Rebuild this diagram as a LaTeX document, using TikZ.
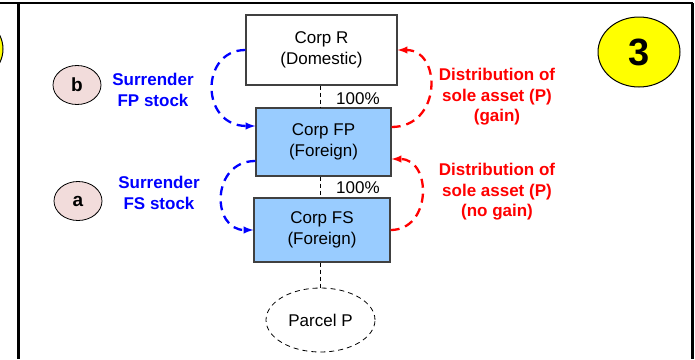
\documentclass[tikz,border=0pt]{standalone}
\usepackage{fontspec}
\setmainfont{Liberation Sans}
\usetikzlibrary{shapes.geometric}
\definecolor{boxblue}{RGB}{153,204,255}
\definecolor{tagpink}{RGB}{242,220,219}
\definecolor{boxgray}{RGB}{64,64,64}
\definecolor{pyellow}{RGB}{255,255,0}
\tikzset{
  corp/.style={draw=boxgray, line width=1.2pt, rectangle, align=center, inner sep=0pt},
  tag/.style={draw, ellipse, fill=tagpink, line width=0.8pt, minimum width=48pt, minimum height=39pt, inner sep=0pt, font=\fontsize{19}{20}\selectfont\bfseries},
  own/.style={draw, line width=0.8pt, dash pattern=on 4pt off 3pt},
  surr/.style={blue, line width=2.3pt, dash pattern=on 9pt off 6pt, ->},
  dist/.style={red, line width=2.3pt, dash pattern=on 9pt off 6pt, ->},
  bluetext/.style={text=blue, align=center, font=\fontsize{17}{20.5}\selectfont\bfseries},
  redtext/.style={text=red, align=center, font=\fontsize{17}{20.5}\selectfont\bfseries},
  frame/.style={line width=2.8pt}
}
\begin{document}
\begin{tikzpicture}[>=latex, x=1pt, y=-1pt, font=\fontsize{17}{20.5}\selectfont]
\useasboundingbox (0,0) rectangle (695,359);
\clip (0,0) rectangle (695,359);

% panel frame
\draw[frame] (0,3) -- (692.5,3);
\draw[frame] (18.5,3) -- (18.5,359);
\draw[frame] (692.5,3) -- (692.5,359);
\draw[line width=1pt, fill=pyellow] (-38,49) ellipse [x radius=41, y radius=35];

\node(Num)[draw, ellipse, fill=pyellow, line width=1pt, minimum width=82pt, minimum height=70pt, font=\fontsize{38}{40}\selectfont\bfseries] at (639,52) {3};

\node(CR)[corp, fill=white, minimum width=151pt, minimum height=70pt] at (321.5,50) {Corp R\\(Domestic)};
\node(CFP)[corp, fill=boxblue, minimum width=135pt, minimum height=68pt] at (323.5,142) {Corp FP\\(Foreign)};
\node(CFS)[corp, fill=boxblue, minimum width=136pt, minimum height=64pt] at (322,230) {Corp FS\\(Foreign)};
\node(PP)[draw, ellipse, line width=0.8pt, dash pattern=on 5pt off 4pt, minimum width=109pt, minimum height=64pt, inner sep=0pt] at (320.5,320) {Parcel P};

\draw[own] (CR.south -| 320.5,0) -- (CFP.north -| 320.5,0);
\draw[own] (CFP.south -| 320.5,0) -- (CFS.north -| 320.5,0);
\draw[own] (CFS.south -| 320.5,0) -- (PP.north);
\node(O1)[anchor=west, inner sep=0pt] at (336,99) {100\%};
\node(O2)[anchor=west, inner sep=0pt] at (336,188) {100\%};

\node(Lb)[tag] at (77,85) {b};
\node(La)[tag] at (78,201) {a};
\node(Sb)[bluetext] at (153,90) {Surrender\\FP stock};
\node(Sa)[bluetext] at (159,193) {Surrender\\FS stock};
\node(Dg)[redtext] at (497,97) {Distribution of\\sole asset (P)\\(gain)};
\node(Dn)[redtext] at (497,192) {Distribution of\\sole asset (P)\\(no gain)};

\draw[surr] (CR.west) .. controls (200,50) and (200,126) .. ([yshift=16pt]CFP.west);
\draw[surr] ([yshift=-19pt]CFP.west) .. controls (211,161) and (211,230) .. (CFS.west);
\draw[dist] ([yshift=15pt]CFP.east) .. controls (442,127) and (442,50) .. (CR.east);
\draw[dist] (CFS.east) .. controls (432,230) and (432,159) .. ([yshift=-17pt]CFP.east);
\end{tikzpicture}
\end{document}
